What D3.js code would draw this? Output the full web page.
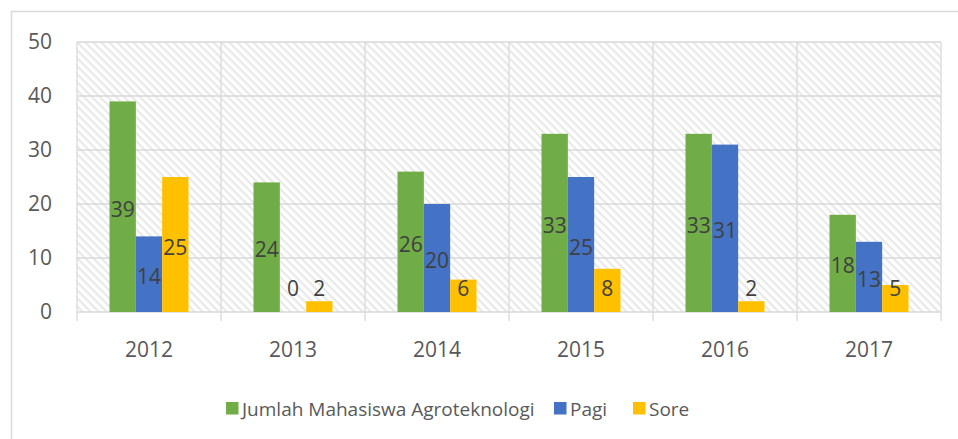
<!DOCTYPE html>
<html>
<head>
<meta charset="utf-8">
<script src="https://cdn.jsdelivr.net/npm/d3@7"></script>
<style>
  body { margin: 0; background: #fff; }
  text { font-family: "Open Sans", sans-serif; }
</style>
</head>
<body>
<div id="chart"></div>
<script>
const years = ["2012", "2013", "2014", "2015", "2016", "2017"];
const seriesNames = ["Jumlah Mahasiswa Agroteknologi", "Pagi", "Sore"];
const jumlah = [39, 24, 26, 33, 33, 18];
const pagi = [14, 0, 20, 25, 31, 13];
const sore = [25, 2, 6, 8, 2, 5];
const yTicks = [0, 10, 20, 30, 40, 50];
const colors = ["#70AD47", "#4472C4", "#FFC000"];

const W = 958, H = 439;
const margin = { top: 42, right: 17, bottom: 127, left: 77 };
const width = W - margin.left - margin.right;
const height = H - margin.top - margin.bottom;

const svg = d3.select("#chart").append("svg")
    .attr("width", W)
    .attr("height", H);

// hatch pattern for plot area
const defs = svg.append("defs");
const pat = defs.append("pattern")
    .attr("id", "hatch")
    .attr("patternUnits", "userSpaceOnUse")
    .attr("width", 8)
    .attr("height", 8);
pat.append("rect").attr("width", 8).attr("height", 8).attr("fill", "#fff");
pat.append("path")
    .attr("d", "M-2,-2 L10,10 M-2,6 L2,10 M6,-2 L10,2")
    .attr("stroke", "#e9e9e9")
    .attr("stroke-width", 2.2);

// outer chart border
svg.append("rect")
    .attr("x", 11.5).attr("y", 11.5)
    .attr("width", 980).attr("height", 460)
    .attr("fill", "none")
    .attr("stroke", "#d9d9d9")
    .attr("stroke-width", 1.5);

const g = svg.append("g").attr("transform", `translate(${margin.left},${margin.top})`);

const data = years.map((yr, i) => ({ year: yr, values: [jumlah[i], pagi[i], sore[i]] }));

const x0 = d3.scaleBand().domain(years).range([0, width]);
const x1 = d3.scaleBand().domain(d3.range(seriesNames.length))
    .range([0, x0.bandwidth()])
    .paddingOuter(1.235);
const y = d3.scaleLinear().domain([0, 50]).range([height, 0]);

g.append("rect")
    .attr("width", width).attr("height", height)
    .attr("fill", "url(#hatch)");

// horizontal gridlines
g.append("g")
    .selectAll("line")
    .data(yTicks)
    .join("line")
    .attr("x1", 0).attr("x2", width)
    .attr("y1", d => y(d)).attr("y2", d => y(d))
    .attr("stroke", "#d9d9d9")
    .attr("stroke-width", 1.3);

// vertical category lines
const bounds = years.map(d => x0(d)).concat([width]);
g.append("g")
    .selectAll("line")
    .data(bounds)
    .join("line")
    .attr("x1", d => d).attr("x2", d => d)
    .attr("y1", 0).attr("y2", height + 9)
    .attr("stroke", "#d9d9d9")
    .attr("stroke-width", 1.3);

// y axis labels
g.append("g")
    .call(d3.axisLeft(y).tickValues(yTicks).tickSize(0).tickPadding(25))
    .call(a => a.select(".domain").remove())
    .selectAll("text")
    .style("font-size", "21px")
    .style("fill", "#595959");

// x axis labels
g.append("g")
    .attr("transform", `translate(0,${height})`)
    .call(d3.axisBottom(x0).tickSize(0).tickPadding(30))
    .call(a => a.select(".domain").remove())
    .selectAll("text")
    .style("font-size", "21px")
    .style("fill", "#595959");

// bars
const groups = g.selectAll(".grp")
    .data(data)
    .join("g")
    .attr("class", "grp")
    .attr("transform", d => `translate(${x0(d.year)},0)`);

groups.selectAll("rect")
    .data(d => d.values)
    .join("rect")
    .attr("x", (d, i) => x1(i))
    .attr("y", d => y(d))
    .attr("width", x1.bandwidth())
    .attr("height", d => height - y(d))
    .attr("fill", (d, i) => colors[i]);

// data labels, centred in bar, kept above axis for short bars
groups.selectAll("text")
    .data(d => d.values)
    .join("text")
    .attr("x", (d, i) => x1(i) + x1.bandwidth() / 2)
    .attr("y", d => Math.min((y(d) + height) / 2, height - 26) + 2)
    .attr("text-anchor", "middle")
    .attr("dominant-baseline", "central")
    .style("font-size", "21px")
    .style("fill", "#404040")
    .text(d => d);

// legend
const legendX = [226, 554, 633];
const legend = svg.append("g");
const items = legend.selectAll("g")
    .data(seriesNames)
    .join("g")
    .attr("transform", (d, i) => `translate(${legendX[i]},402)`);
items.append("rect")
    .attr("width", 12.5).attr("height", 12.5)
    .attr("fill", (d, i) => colors[i]);
items.append("text")
    .attr("x", 16).attr("y", 13.5)
    .style("font-size", "19px")
    .style("fill", "#595959")
    .text(d => d);
</script>
</body>
</html>
